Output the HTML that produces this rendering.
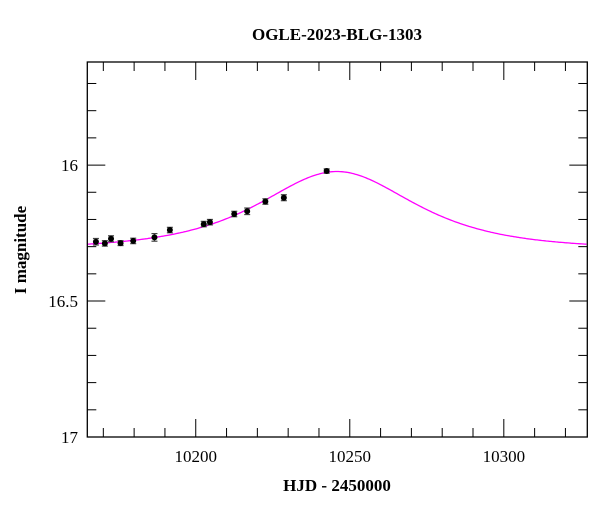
<!DOCTYPE html>
<html><head><meta charset="utf-8"><style>
body{margin:0;background:#fff;}
text{font-family:"Liberation Serif",serif;fill:#000;}
</style></head><body>
<svg id="chart" width="600" height="512" xmlns="http://www.w3.org/2000/svg">
<text x="337" y="40" font-size="17" font-weight="bold" text-anchor="middle">OGLE-2023-BLG-1303</text>
<text x="337" y="491" font-size="17" font-weight="bold" text-anchor="middle">HJD - 2450000</text>
<text transform="translate(26,250) rotate(-90)" font-size="17" font-weight="bold" text-anchor="middle">I magnitude</text>
<g id="ticks"></g>
<path id="model" fill="none" stroke="#ff00ff" stroke-width="1.3"/>
<g id="pts"></g>
<rect x="87.3" y="62" width="500" height="375" fill="none" stroke="#000" stroke-width="1.3"/>
</svg>
<script>
const hjd=[10167.6,10170.5,10172.5,10175.6,10179.7,10186.6,10191.6,10202.6,10204.6,10212.5,10216.7,10222.6,10228.6,10242.5];
const mag=[16.282,16.288,16.271,16.287,16.279,16.266,16.239,16.217,16.210,16.180,16.170,16.134,16.120,16.022];
const err=[0.012,0.010,0.011,0.009,0.010,0.014,0.010,0.010,0.010,0.010,0.012,0.010,0.011,0.008];
const modelParams=[10245.8,1.06,29.3,16.31]; // t0,u0,tE,baseline
const xTicks=[10200,10250,10300];
const yTicks=[16,16.5,17];
const X0=87.3,X1=587.3,Y0=62,Y1=437,T0=10164.8,T1=10327.1,M0=15.621,M1=17;
const sx=t=>X0+(t-T0)/(T1-T0)*(X1-X0);
const sy=m=>Y0+(m-M0)/(M1-M0)*(Y1-Y0);
const NS='http://www.w3.org/2000/svg';
const tg=document.getElementById('ticks');
function mk(tag,a,p){const e=document.createElementNS(NS,tag);for(const k in a)e.setAttribute(k,a[k]);(p||tg).appendChild(e);return e;}
for(let t=10170;t<=10320;t+=10){
 const x=sx(t);const major=t%50===0;const L=major?18:9;
 const a=mk('line',{x1:x,x2:x,y1:Y1,y2:Y1-L,stroke:'#000','stroke-width':1});
 
 
 const b=mk('line',{x1:x,x2:x,y1:Y0,y2:Y0+L,stroke:'#000','stroke-width':1});
 
 
}
xTicks.forEach(t=>{const e=mk('text',{x:sx(t),y:462,'font-size':17,'text-anchor':'middle'});e.textContent=t;
 
 });
for(let i=7;i<=20;i++){
 const mm=Math.round((15+i*0.1)*10)/10;
 if(mm<M0||mm>M1)continue;
 const y=sy(mm);const major=Math.abs(mm*2-Math.round(mm*2))<1e-6;const L=major?18:9;
 const a=mk('line',{x1:X0,x2:X0+L,y1:y,y2:y,stroke:'#000','stroke-width':1});
 
 
 const b=mk('line',{x1:X1,x2:X1-L,y1:y,y2:y,stroke:'#000','stroke-width':1});
 
 
}
yTicks.forEach(m=>{const e=mk('text',{x:78,y:sy(m)+6,'font-size':17,'text-anchor':'end'});e.textContent=m;
 
 });
const [t0,u0,tE,base]=modelParams;let d='';
for(let t=T0;t<=T1;t+=0.5){const u=Math.sqrt(u0*u0+((t-t0)/tE)**2);const A=(u*u+2)/(u*Math.sqrt(u*u+4));
 const m=base-2.5*Math.log10(A);d+=(d?'L':'M')+sx(t).toFixed(1)+','+sy(m).toFixed(1);}
document.getElementById('model').setAttribute('d',d);
const pg=document.getElementById('pts');
hjd.forEach((t,i)=>{const x=sx(t),y=sy(mag[i]),e1=sy(mag[i]-err[i]),e2=sy(mag[i]+err[i]);
 const g=mk('g',{},pg);
 
 
 mk('line',{x1:x,x2:x,y1:e1,y2:e2,stroke:'#444','stroke-width':1.2},g);
 mk('line',{x1:x-3,x2:x+3,y1:e1,y2:e1,stroke:'#444','stroke-width':1.2},g);
 mk('line',{x1:x-3,x2:x+3,y1:e2,y2:e2,stroke:'#444','stroke-width':1.2},g);
 mk('circle',{cx:x,cy:y,r:3,fill:'#000'},g);
});
</script>
</body></html>
